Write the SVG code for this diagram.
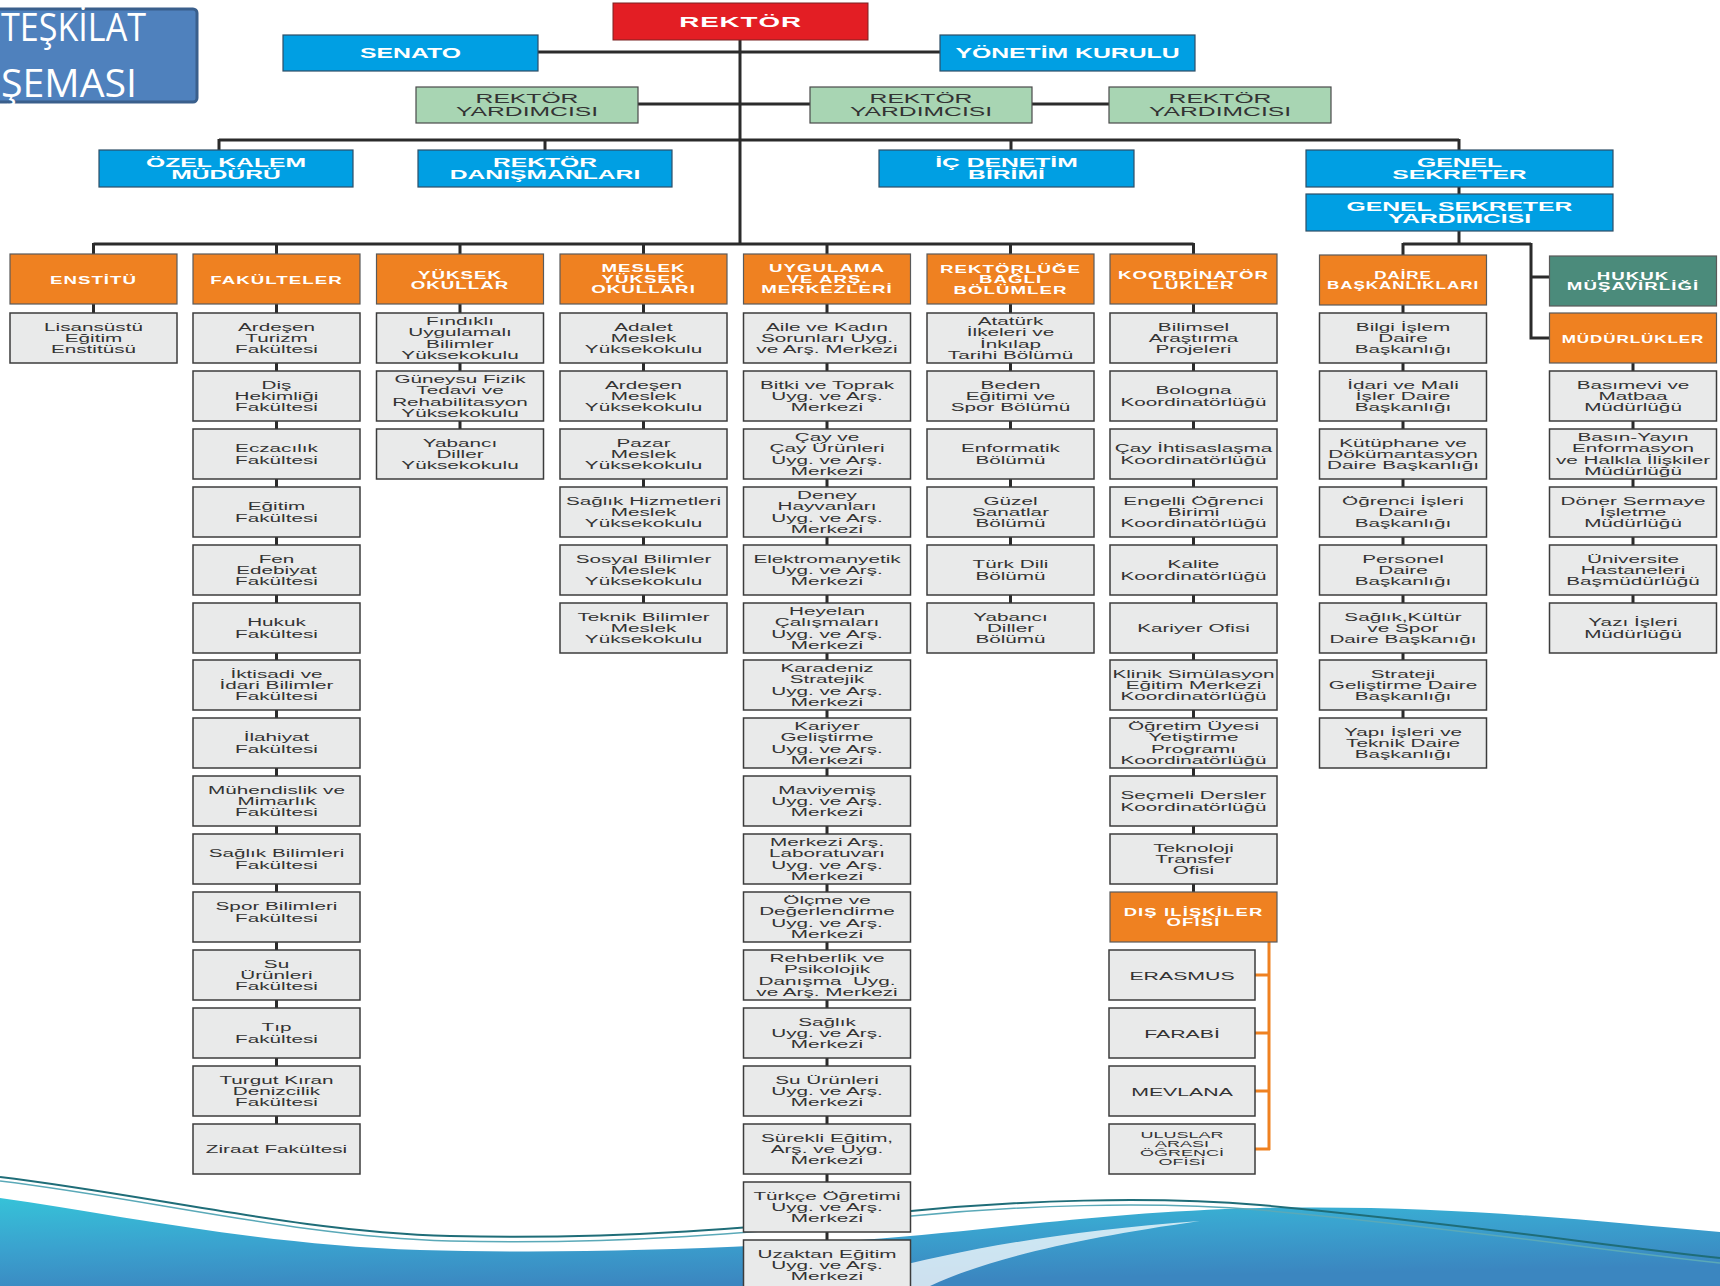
<svg xmlns="http://www.w3.org/2000/svg" width="1720" height="1286" viewBox="0 0 1720 1286">
<defs>
<linearGradient id="wave" x1="0" y1="0" x2="0.35" y2="1">
<stop offset="0" stop-color="#36c2d8"/>
<stop offset="0.5" stop-color="#3aa3cf"/>
<stop offset="1" stop-color="#3b86c0"/>
</linearGradient>
<style>
.box{fill:#e9eaea;stroke:#3c3c3c;stroke-width:1.5}
.hdr{fill:#ef8121;stroke:#5a5a5a;stroke-width:1.2}
.blue{fill:#009fe3;stroke:#2d4e66;stroke-width:1.2}
.green{fill:#a8d5b3;stroke:#4a4a4a;stroke-width:1.2}
.red{fill:#e31e24;stroke:#7a2222;stroke-width:1}
.teal{fill:#4b8b7b;stroke:#5a5a5a;stroke-width:1.2}
.ln{stroke:#2b2b2b;stroke-width:3;fill:none}
.oln{stroke:#ef8121;stroke-width:3;fill:none}
.g{font-family:"Liberation Sans",Arial,sans-serif;font-size:11.5px;fill:#333;text-anchor:middle}
.h{font-family:"Liberation Sans",Arial,sans-serif;font-size:11px;font-weight:bold;fill:#fff;text-anchor:middle;letter-spacing:0.6px}
.tb{font-family:"Liberation Sans",Arial,sans-serif;font-size:13px;font-weight:bold;fill:#fff;text-anchor:middle}
.tg{font-family:"Liberation Sans",Arial,sans-serif;font-size:13px;fill:#333;text-anchor:middle}
.title{font-family:"Open Sans","Noto Sans",sans-serif;font-size:38px;fill:#fff}
</style>
</defs>
<g id="background">
<path d="M0,1198 C120,1215 260,1245 420,1250 C560,1254 700,1250 860,1240 C1000,1230 1100,1212 1260,1208 C1450,1204 1600,1222 1720,1232 L1720,1286 L0,1286 Z" fill="url(#wave)"/>
<path d="M860,1276 C950,1252 1050,1232 1200,1221 C1080,1238 990,1258 930,1286 L880,1286 Z" fill="#ffffff" opacity="0.75"/>
<path d="M0,1177 C150,1195 300,1232 450,1236 C620,1240 760,1228 900,1212 C1020,1200 1150,1196 1260,1205 C1450,1222 1600,1245 1720,1258" fill="none" stroke="#1f6d78" stroke-width="2"/>
<path d="M0,1181 C150,1199 300,1237 450,1241 C620,1245 760,1233 900,1217 C1020,1205 1150,1201 1260,1210 C1450,1227 1600,1250 1720,1263" fill="none" stroke="#5aa9b8" stroke-width="1.5"/>
</g>
<g id="title">
<rect x="-8" y="9" width="205" height="93" rx="4" fill="#4f81bd" stroke="#3a5f8c" stroke-width="3"/>
<text class="title" x="1" y="41" textLength="145" lengthAdjust="spacingAndGlyphs">TEŞKİLAT</text>
<text class="title" x="1" y="97" textLength="136" lengthAdjust="spacingAndGlyphs">ŞEMASI</text>
</g>
<g id="connectors">
<path class="ln" d="M740,40 V244"/>
<path class="ln" d="M538,52 H940"/>
<path class="ln" d="M637,104 H1109"/>
<path class="ln" d="M219,140 H1459 M219,139 V150 M545,139 V150 M1011,139 V150 M1459,139 V150"/>
<path class="ln" d="M1459,187 V194 M1459,231 V244 M1403,244 H1531 M1403,243 V255 M1531,243 V338 H1549 M1531,277 H1549"/>
<path class="ln" d="M93.5,244 H1193.5 M93.5,243 V254 M276.5,243 V254 M460,243 V254 M643.5,243 V254 M827,243 V254 M1010.5,243 V254 M1193.5,243 V254"/>
<path class="ln" d="M93.5,304 V313 M276.5,304 V1124 M460,304 V429 M643.5,304 V603 M827,304 V1286 M1010.5,304 V603 M1193.5,304 V892 M1403,304 V718 M1633,363 V603"/>
<path class="oln" d="M1269,942 V1150 M1255,975 H1270 M1255,1033 H1270 M1255,1091 H1270 M1255,1149 H1270"/>
</g>
<g id="n-rektor"><rect class="red" x="613" y="3" width="255" height="37"/><text class="tb" style="font-size:15px;letter-spacing:0.5px" transform="translate(740.5 0) scale(1.85 1)" x="0" y="27.5">REKTÖR</text></g>
<g id="n-senato"><rect class="blue" x="283" y="35" width="255" height="36"/><text class="tb" style="font-size:14px" transform="translate(410.5 0) scale(1.77 1)" x="0" y="58">SENATO</text></g>
<g id="n-yonetim"><rect class="blue" x="940" y="35" width="255" height="36"/><text class="tb" style="font-size:14px" transform="translate(1067.5 0) scale(1.77 1)" x="0" y="58">YÖNETİM KURULU</text></g>
<g id="n-ry1"><rect class="green" x="416" y="87" width="222" height="36"/><text class="tg" transform="translate(527 0) scale(1.9 1)"><tspan x="0" y="103">REKTÖR</tspan><tspan x="0" y="116">YARDIMCISI</tspan></text></g>
<g id="n-ry2"><rect class="green" x="810" y="87" width="222" height="36"/><text class="tg" transform="translate(921 0) scale(1.9 1)"><tspan x="0" y="103">REKTÖR</tspan><tspan x="0" y="116">YARDIMCISI</tspan></text></g>
<g id="n-ry3"><rect class="green" x="1109" y="87" width="222" height="36"/><text class="tg" transform="translate(1220 0) scale(1.9 1)"><tspan x="0" y="103">REKTÖR</tspan><tspan x="0" y="116">YARDIMCISI</tspan></text></g>
<g id="n-ozel"><rect class="blue" x="99" y="150" width="254" height="37"/><text class="tb" transform="translate(226 0) scale(1.9 1)"><tspan x="0" y="167">ÖZEL KALEM</tspan><tspan x="0" y="179.5">MÜDÜRÜ</tspan></text></g>
<g id="n-danisman"><rect class="blue" x="418" y="150" width="254" height="37"/><text class="tb" transform="translate(545 0) scale(1.9 1)"><tspan x="0" y="167">REKTÖR</tspan><tspan x="0" y="179.5">DANIŞMANLARI</tspan></text></g>
<g id="n-icdenetim"><rect class="blue" x="879" y="150" width="255" height="37"/><text class="tb" transform="translate(1006.5 0) scale(1.9 1)"><tspan x="0" y="167">İÇ DENETİM</tspan><tspan x="0" y="179.5">BİRİMİ</tspan></text></g>
<g id="n-gs"><rect class="blue" x="1306" y="150" width="307" height="37"/><text class="tb" transform="translate(1459.5 0) scale(1.9 1)"><tspan x="0" y="167">GENEL</tspan><tspan x="0" y="179.5">SEKRETER</tspan></text></g>
<g id="n-gsy"><rect class="blue" x="1306" y="194" width="307" height="37"/><text class="tb" transform="translate(1459.5 0) scale(1.9 1)"><tspan x="0" y="211">GENEL SEKRETER</tspan><tspan x="0" y="223.5">YARDIMCISI</tspan></text></g>

<g id="h-enstitu"><rect class="hdr" x="10" y="254" width="167" height="50"/><text class="h" transform="translate(93.5 0) scale(1.7 1)" x="0" y="284">ENSTİTÜ</text></g>
<g id="h-fakulteler"><rect class="hdr" x="193" y="254" width="167" height="50"/><text class="h" transform="translate(276.5 0) scale(1.7 1)" x="0" y="284">FAKÜLTELER</text></g>
<g id="h-yuksekokullar"><rect class="hdr" x="376.5" y="254" width="167" height="50"/><text class="h" transform="translate(460 0) scale(1.7 1)"><tspan x="0" y="279">YÜKSEK</tspan><tspan x="0" y="289.5">OKULLAR</tspan></text></g>
<g id="h-myo"><rect class="hdr" x="560" y="254" width="167" height="50"/><text class="h" transform="translate(643.5 0) scale(1.7 1)"><tspan x="0" y="272.5">MESLEK</tspan><tspan x="0" y="283">YÜKSEK</tspan><tspan x="0" y="293.5">OKULLARI</tspan></text></g>
<g id="h-uygulama"><rect class="hdr" x="743.5" y="254" width="167" height="50"/><text class="h" transform="translate(827 0) scale(1.7 1)"><tspan x="0" y="272.5">UYGULAMA</tspan><tspan x="0" y="283">VE ARŞ.</tspan><tspan x="0" y="293.5">MERKEZLERİ</tspan></text></g>
<g id="h-bolumler"><rect class="hdr" x="927" y="254" width="167" height="50"/><text class="h" transform="translate(1010.5 0) scale(1.7 1)"><tspan x="0" y="273">REKTÖRLÜĞE</tspan><tspan x="0" y="283.5">BAĞLI</tspan><tspan x="0" y="294">BÖLÜMLER</tspan></text></g>
<g id="h-koord"><rect class="hdr" x="1110" y="254" width="167" height="50"/><text class="h" transform="translate(1193.5 0) scale(1.7 1)"><tspan x="0" y="279">KOORDİNATÖR</tspan><tspan x="0" y="289.5">LÜKLER</tspan></text></g>
<g id="h-daire"><rect class="hdr" x="1319.5" y="255" width="167" height="50"/><text class="h" transform="translate(1403 0) scale(1.55 1)"><tspan x="0" y="279">DAİRE</tspan><tspan x="0" y="289.5">BAŞKANLIKLARI</tspan></text></g>
<g id="h-hukuk"><rect class="teal" x="1549.5" y="256" width="167" height="50"/><text class="h" transform="translate(1633 0) scale(1.7 1)"><tspan x="0" y="280">HUKUK</tspan><tspan x="0" y="290.5">MÜŞAVİRLİĞİ</tspan></text></g>
<g id="h-mudurlukler"><rect class="hdr" x="1549.5" y="313" width="167" height="50"/><text class="h" transform="translate(1633 0) scale(1.55 1)" x="0" y="343">MÜDÜRLÜKLER</text></g>

<g id="c0-0"><rect class="box" x="10" y="313" width="167" height="50"/><text class="g" transform="translate(93.5 0) scale(1.8 1)"><tspan x="0" y="330.7">Lisansüstü</tspan><tspan x="0" y="342">Eğitim</tspan><tspan x="0" y="353.3">Enstitüsü</tspan></text></g>

<g id="c1-0"><rect class="box" x="193" y="313" width="167" height="50"/><text class="g" transform="translate(276.5 0) scale(1.8 1)"><tspan x="0" y="330.7">Ardeşen</tspan><tspan x="0" y="342">Turizm</tspan><tspan x="0" y="353.3">Fakültesi</tspan></text></g>
<g id="c1-1"><rect class="box" x="193" y="371" width="167" height="50"/><text class="g" transform="translate(276.5 0) scale(1.8 1)"><tspan x="0" y="388.7">Diş</tspan><tspan x="0" y="400">Hekimliği</tspan><tspan x="0" y="411.3">Fakültesi</tspan></text></g>
<g id="c1-2"><rect class="box" x="193" y="429" width="167" height="50"/><text class="g" transform="translate(276.5 0) scale(1.8 1)"><tspan x="0" y="452.3">Eczacılık</tspan><tspan x="0" y="463.6">Fakültesi</tspan></text></g>
<g id="c1-3"><rect class="box" x="193" y="487" width="167" height="50"/><text class="g" transform="translate(276.5 0) scale(1.8 1)"><tspan x="0" y="510.3">Eğitim</tspan><tspan x="0" y="521.6">Fakültesi</tspan></text></g>
<g id="c1-4"><rect class="box" x="193" y="545" width="167" height="50"/><text class="g" transform="translate(276.5 0) scale(1.8 1)"><tspan x="0" y="562.7">Fen</tspan><tspan x="0" y="574">Edebiyat</tspan><tspan x="0" y="585.3">Fakültesi</tspan></text></g>
<g id="c1-5"><rect class="box" x="193" y="603" width="167" height="50"/><text class="g" transform="translate(276.5 0) scale(1.8 1)"><tspan x="0" y="626.3">Hukuk</tspan><tspan x="0" y="637.6">Fakültesi</tspan></text></g>
<g id="c1-6"><rect class="box" x="193" y="660" width="167" height="50"/><text class="g" transform="translate(276.5 0) scale(1.8 1)"><tspan x="0" y="677.7">İktisadi ve</tspan><tspan x="0" y="689">İdari Bilimler</tspan><tspan x="0" y="700.3">Fakültesi</tspan></text></g>
<g id="c1-7"><rect class="box" x="193" y="718" width="167" height="50"/><text class="g" transform="translate(276.5 0) scale(1.8 1)"><tspan x="0" y="741.3">İlahiyat</tspan><tspan x="0" y="752.6">Fakültesi</tspan></text></g>
<g id="c1-8"><rect class="box" x="193" y="776" width="167" height="50"/><text class="g" transform="translate(276.5 0) scale(1.8 1)"><tspan x="0" y="793.7">Mühendislik ve</tspan><tspan x="0" y="805">Mimarlık</tspan><tspan x="0" y="816.3">Fakültesi</tspan></text></g>
<g id="c1-9"><rect class="box" x="193" y="834" width="167" height="50"/><text class="g" transform="translate(276.5 0) scale(1.8 1)"><tspan x="0" y="857.3">Sağlık Bilimleri</tspan><tspan x="0" y="868.6">Fakültesi</tspan></text></g>
<g id="c1-10"><rect class="box" x="193" y="892" width="167" height="50"/><text class="g" transform="translate(276.5 0) scale(1.8 1)"><tspan x="0" y="910.5">Spor Bilimleri</tspan><tspan x="0" y="921.8">Fakültesi</tspan></text></g>
<g id="c1-11"><rect class="box" x="193" y="950" width="167" height="50"/><text class="g" transform="translate(276.5 0) scale(1.8 1)"><tspan x="0" y="967.7">Su</tspan><tspan x="0" y="979">Ürünleri</tspan><tspan x="0" y="990.3">Fakültesi</tspan></text></g>
<g id="c1-12"><rect class="box" x="193" y="1008" width="167" height="50"/><text class="g" transform="translate(276.5 0) scale(1.8 1)"><tspan x="0" y="1031.3">Tıp</tspan><tspan x="0" y="1042.6">Fakültesi</tspan></text></g>
<g id="c1-13"><rect class="box" x="193" y="1066" width="167" height="50"/><text class="g" transform="translate(276.5 0) scale(1.8 1)"><tspan x="0" y="1083.7">Turgut Kıran</tspan><tspan x="0" y="1095">Denizcilik</tspan><tspan x="0" y="1106.3">Fakültesi</tspan></text></g>
<g id="c1-14"><rect class="box" x="193" y="1124" width="167" height="50"/><text class="g" transform="translate(276.5 0) scale(1.8 1)" x="0" y="1153">Ziraat Fakültesi</text></g>

<g id="c2-0"><rect class="box" x="376.5" y="313" width="167" height="50"/><text class="g" transform="translate(460 0) scale(1.8 1)"><tspan x="0" y="325">Fındıklı</tspan><tspan x="0" y="336.3">Uygulamalı</tspan><tspan x="0" y="347.6">Bilimler</tspan><tspan x="0" y="358.9">Yüksekokulu</tspan></text></g>
<g id="c2-1"><rect class="box" x="376.5" y="371" width="167" height="50"/><text class="g" transform="translate(460 0) scale(1.8 1)"><tspan x="0" y="383">Güneysu Fizik</tspan><tspan x="0" y="394.3">Tedavi ve</tspan><tspan x="0" y="405.6">Rehabilitasyon</tspan><tspan x="0" y="416.9">Yüksekokulu</tspan></text></g>
<g id="c2-2"><rect class="box" x="376.5" y="429" width="167" height="50"/><text class="g" transform="translate(460 0) scale(1.8 1)"><tspan x="0" y="446.7">Yabancı</tspan><tspan x="0" y="458">Diller</tspan><tspan x="0" y="469.3">Yüksekokulu</tspan></text></g>

<g id="c3-0"><rect class="box" x="560" y="313" width="167" height="50"/><text class="g" transform="translate(643.5 0) scale(1.8 1)"><tspan x="0" y="330.7">Adalet</tspan><tspan x="0" y="342">Meslek</tspan><tspan x="0" y="353.3">Yüksekokulu</tspan></text></g>
<g id="c3-1"><rect class="box" x="560" y="371" width="167" height="50"/><text class="g" transform="translate(643.5 0) scale(1.8 1)"><tspan x="0" y="388.7">Ardeşen</tspan><tspan x="0" y="400">Meslek</tspan><tspan x="0" y="411.3">Yüksekokulu</tspan></text></g>
<g id="c3-2"><rect class="box" x="560" y="429" width="167" height="50"/><text class="g" transform="translate(643.5 0) scale(1.8 1)"><tspan x="0" y="446.7">Pazar</tspan><tspan x="0" y="458">Meslek</tspan><tspan x="0" y="469.3">Yüksekokulu</tspan></text></g>
<g id="c3-3"><rect class="box" x="560" y="487" width="167" height="50"/><text class="g" transform="translate(643.5 0) scale(1.8 1)"><tspan x="0" y="504.7">Sağlık Hizmetleri</tspan><tspan x="0" y="516">Meslek</tspan><tspan x="0" y="527.3">Yüksekokulu</tspan></text></g>
<g id="c3-4"><rect class="box" x="560" y="545" width="167" height="50"/><text class="g" transform="translate(643.5 0) scale(1.8 1)"><tspan x="0" y="562.7">Sosyal Bilimler</tspan><tspan x="0" y="574">Meslek</tspan><tspan x="0" y="585.3">Yüksekokulu</tspan></text></g>
<g id="c3-5"><rect class="box" x="560" y="603" width="167" height="50"/><text class="g" transform="translate(643.5 0) scale(1.8 1)"><tspan x="0" y="620.7">Teknik Bilimler</tspan><tspan x="0" y="632">Meslek</tspan><tspan x="0" y="643.3">Yüksekokulu</tspan></text></g>

<g id="c4-0"><rect class="box" x="743.5" y="313" width="167" height="50"/><text class="g" transform="translate(827 0) scale(1.8 1)"><tspan x="0" y="330.7">Aile ve Kadın</tspan><tspan x="0" y="342">Sorunları Uyg.</tspan><tspan x="0" y="353.3">ve Arş. Merkezi</tspan></text></g>
<g id="c4-1"><rect class="box" x="743.5" y="371" width="167" height="50"/><text class="g" transform="translate(827 0) scale(1.8 1)"><tspan x="0" y="388.7">Bitki ve Toprak</tspan><tspan x="0" y="400">Uyg. ve Arş.</tspan><tspan x="0" y="411.3">Merkezi</tspan></text></g>
<g id="c4-2"><rect class="box" x="743.5" y="429" width="167" height="50"/><text class="g" transform="translate(827 0) scale(1.8 1)"><tspan x="0" y="441">Çay ve</tspan><tspan x="0" y="452.3">Çay Ürünleri</tspan><tspan x="0" y="463.6">Uyg. ve Arş.</tspan><tspan x="0" y="474.9">Merkezi</tspan></text></g>
<g id="c4-3"><rect class="box" x="743.5" y="487" width="167" height="50"/><text class="g" transform="translate(827 0) scale(1.8 1)"><tspan x="0" y="499">Deney</tspan><tspan x="0" y="510.3">Hayvanları</tspan><tspan x="0" y="521.6">Uyg. ve Arş.</tspan><tspan x="0" y="532.9">Merkezi</tspan></text></g>
<g id="c4-4"><rect class="box" x="743.5" y="545" width="167" height="50"/><text class="g" transform="translate(827 0) scale(1.8 1)"><tspan x="0" y="562.7">Elektromanyetik</tspan><tspan x="0" y="574">Uyg. ve Arş.</tspan><tspan x="0" y="585.3">Merkezi</tspan></text></g>
<g id="c4-5"><rect class="box" x="743.5" y="603" width="167" height="50"/><text class="g" transform="translate(827 0) scale(1.8 1)"><tspan x="0" y="615">Heyelan</tspan><tspan x="0" y="626.3">Çalışmaları</tspan><tspan x="0" y="637.6">Uyg. ve Arş.</tspan><tspan x="0" y="648.9">Merkezi</tspan></text></g>
<g id="c4-6"><rect class="box" x="743.5" y="660" width="167" height="50"/><text class="g" transform="translate(827 0) scale(1.8 1)"><tspan x="0" y="672">Karadeniz</tspan><tspan x="0" y="683.3">Stratejik</tspan><tspan x="0" y="694.6">Uyg. ve Arş.</tspan><tspan x="0" y="705.9">Merkezi</tspan></text></g>
<g id="c4-7"><rect class="box" x="743.5" y="718" width="167" height="50"/><text class="g" transform="translate(827 0) scale(1.8 1)"><tspan x="0" y="730">Kariyer</tspan><tspan x="0" y="741.3">Geliştirme</tspan><tspan x="0" y="752.6">Uyg. ve Arş.</tspan><tspan x="0" y="763.9">Merkezi</tspan></text></g>
<g id="c4-8"><rect class="box" x="743.5" y="776" width="167" height="50"/><text class="g" transform="translate(827 0) scale(1.8 1)"><tspan x="0" y="793.7">Maviyemiş</tspan><tspan x="0" y="805">Uyg. ve Arş.</tspan><tspan x="0" y="816.3">Merkezi</tspan></text></g>
<g id="c4-9"><rect class="box" x="743.5" y="834" width="167" height="50"/><text class="g" transform="translate(827 0) scale(1.8 1)"><tspan x="0" y="846">Merkezi Arş.</tspan><tspan x="0" y="857.3">Laboratuvarı</tspan><tspan x="0" y="868.6">Uyg. ve Arş.</tspan><tspan x="0" y="879.9">Merkezi</tspan></text></g>
<g id="c4-10"><rect class="box" x="743.5" y="892" width="167" height="50"/><text class="g" transform="translate(827 0) scale(1.8 1)"><tspan x="0" y="904">Ölçme ve</tspan><tspan x="0" y="915.3">Değerlendirme</tspan><tspan x="0" y="926.6">Uyg. ve Arş.</tspan><tspan x="0" y="937.9">Merkezi</tspan></text></g>
<g id="c4-11"><rect class="box" x="743.5" y="950" width="167" height="50"/><text class="g" transform="translate(827 0) scale(1.8 1)"><tspan x="0" y="962">Rehberlik ve</tspan><tspan x="0" y="973.3">Psikolojik</tspan><tspan x="0" y="984.6" xml:space="preserve">Danışma  Uyg.</tspan><tspan x="0" y="995.9">ve Arş. Merkezi</tspan></text></g>
<g id="c4-12"><rect class="box" x="743.5" y="1008" width="167" height="50"/><text class="g" transform="translate(827 0) scale(1.8 1)"><tspan x="0" y="1025.7">Sağlık</tspan><tspan x="0" y="1037">Uyg. ve Arş.</tspan><tspan x="0" y="1048.3">Merkezi</tspan></text></g>
<g id="c4-13"><rect class="box" x="743.5" y="1066" width="167" height="50"/><text class="g" transform="translate(827 0) scale(1.8 1)"><tspan x="0" y="1083.7">Su Ürünleri</tspan><tspan x="0" y="1095">Uyg. ve Arş.</tspan><tspan x="0" y="1106.3">Merkezi</tspan></text></g>
<g id="c4-14"><rect class="box" x="743.5" y="1124" width="167" height="50"/><text class="g" transform="translate(827 0) scale(1.8 1)"><tspan x="0" y="1141.7">Sürekli Eğitim,</tspan><tspan x="0" y="1153">Arş. ve Uyg.</tspan><tspan x="0" y="1164.3">Merkezi</tspan></text></g>
<g id="c4-15"><rect class="box" x="743.5" y="1182" width="167" height="50"/><text class="g" transform="translate(827 0) scale(1.8 1)"><tspan x="0" y="1199.7">Türkçe Öğretimi</tspan><tspan x="0" y="1211">Uyg. ve Arş.</tspan><tspan x="0" y="1222.3">Merkezi</tspan></text></g>
<g id="c4-16"><rect class="box" x="743.5" y="1240" width="167" height="50"/><text class="g" transform="translate(827 0) scale(1.8 1)"><tspan x="0" y="1257.7">Uzaktan Eğitim</tspan><tspan x="0" y="1269">Uyg. ve Arş.</tspan><tspan x="0" y="1280.3">Merkezi</tspan></text></g>

<g id="c5-0"><rect class="box" x="927" y="313" width="167" height="50"/><text class="g" transform="translate(1010.5 0) scale(1.8 1)"><tspan x="0" y="325">Atatürk</tspan><tspan x="0" y="336.3">İlkeleri ve</tspan><tspan x="0" y="347.6">İnkılap</tspan><tspan x="0" y="358.9">Tarihi Bölümü</tspan></text></g>
<g id="c5-1"><rect class="box" x="927" y="371" width="167" height="50"/><text class="g" transform="translate(1010.5 0) scale(1.8 1)"><tspan x="0" y="388.7">Beden</tspan><tspan x="0" y="400">Eğitimi ve</tspan><tspan x="0" y="411.3">Spor Bölümü</tspan></text></g>
<g id="c5-2"><rect class="box" x="927" y="429" width="167" height="50"/><text class="g" transform="translate(1010.5 0) scale(1.8 1)"><tspan x="0" y="452.3">Enformatik</tspan><tspan x="0" y="463.6">Bölümü</tspan></text></g>
<g id="c5-3"><rect class="box" x="927" y="487" width="167" height="50"/><text class="g" transform="translate(1010.5 0) scale(1.8 1)"><tspan x="0" y="504.7">Güzel</tspan><tspan x="0" y="516">Sanatlar</tspan><tspan x="0" y="527.3">Bölümü</tspan></text></g>
<g id="c5-4"><rect class="box" x="927" y="545" width="167" height="50"/><text class="g" transform="translate(1010.5 0) scale(1.8 1)"><tspan x="0" y="568.3">Türk Dili</tspan><tspan x="0" y="579.6">Bölümü</tspan></text></g>
<g id="c5-5"><rect class="box" x="927" y="603" width="167" height="50"/><text class="g" transform="translate(1010.5 0) scale(1.8 1)"><tspan x="0" y="620.7">Yabancı</tspan><tspan x="0" y="632">Diller</tspan><tspan x="0" y="643.3">Bölümü</tspan></text></g>

<g id="c6-0"><rect class="box" x="1110" y="313" width="167" height="50"/><text class="g" transform="translate(1193.5 0) scale(1.8 1)"><tspan x="0" y="330.7">Bilimsel</tspan><tspan x="0" y="342">Araştırma</tspan><tspan x="0" y="353.3">Projeleri</tspan></text></g>
<g id="c6-1"><rect class="box" x="1110" y="371" width="167" height="50"/><text class="g" transform="translate(1193.5 0) scale(1.8 1)"><tspan x="0" y="394.3">Bologna</tspan><tspan x="0" y="405.6">Koordinatörlüğü</tspan></text></g>
<g id="c6-2"><rect class="box" x="1110" y="429" width="167" height="50"/><text class="g" transform="translate(1193.5 0) scale(1.8 1)"><tspan x="0" y="452.3">Çay İhtisaslaşma</tspan><tspan x="0" y="463.6">Koordinatörlüğü</tspan></text></g>
<g id="c6-3"><rect class="box" x="1110" y="487" width="167" height="50"/><text class="g" transform="translate(1193.5 0) scale(1.8 1)"><tspan x="0" y="504.7">Engelli Öğrenci</tspan><tspan x="0" y="516">Birimi</tspan><tspan x="0" y="527.3">Koordinatörlüğü</tspan></text></g>
<g id="c6-4"><rect class="box" x="1110" y="545" width="167" height="50"/><text class="g" transform="translate(1193.5 0) scale(1.8 1)"><tspan x="0" y="568.3">Kalite</tspan><tspan x="0" y="579.6">Koordinatörlüğü</tspan></text></g>
<g id="c6-5"><rect class="box" x="1110" y="603" width="167" height="50"/><text class="g" transform="translate(1193.5 0) scale(1.8 1)" x="0" y="632">Kariyer Ofisi</text></g>
<g id="c6-6"><rect class="box" x="1110" y="660" width="167" height="50"/><text class="g" transform="translate(1193.5 0) scale(1.8 1)"><tspan x="0" y="677.7">Klinik Simülasyon</tspan><tspan x="0" y="689">Eğitim Merkezi</tspan><tspan x="0" y="700.3">Koordinatörlüğü</tspan></text></g>
<g id="c6-7"><rect class="box" x="1110" y="718" width="167" height="50"/><text class="g" transform="translate(1193.5 0) scale(1.8 1)"><tspan x="0" y="730">Öğretim Üyesi</tspan><tspan x="0" y="741.3">Yetiştirme</tspan><tspan x="0" y="752.6">Programı</tspan><tspan x="0" y="763.9">Koordinatörlüğü</tspan></text></g>
<g id="c6-8"><rect class="box" x="1110" y="776" width="167" height="50"/><text class="g" transform="translate(1193.5 0) scale(1.8 1)"><tspan x="0" y="799.3">Seçmeli Dersler</tspan><tspan x="0" y="810.6">Koordinatörlüğü</tspan></text></g>
<g id="c6-9"><rect class="box" x="1110" y="834" width="167" height="50"/><text class="g" transform="translate(1193.5 0) scale(1.8 1)"><tspan x="0" y="851.7">Teknoloji</tspan><tspan x="0" y="863">Transfer</tspan><tspan x="0" y="874.3">Ofisi</tspan></text></g>
<g id="c6-10"><rect class="hdr" x="1110" y="892" width="167" height="50"/><text class="h" style="font-size:10px" transform="translate(1193.5 0) scale(1.85 1)"><tspan x="0" y="916">DIŞ ILİŞKİLER</tspan><tspan x="0" y="926">OFİSİ</tspan></text></g>
<g id="c6-11"><rect class="box" x="1109" y="950" width="146" height="50"/><text class="g" transform="translate(1182 0) scale(1.85 1)" x="0" y="980.5">ERASMUS</text></g>
<g id="c6-12"><rect class="box" x="1109" y="1008" width="146" height="50"/><text class="g" transform="translate(1182 0) scale(1.85 1)" x="0" y="1038.5">FARABİ</text></g>
<g id="c6-13"><rect class="box" x="1109" y="1066" width="146" height="50"/><text class="g" transform="translate(1182 0) scale(1.85 1)" x="0" y="1096.5">MEVLANA</text></g>
<g id="c6-14"><rect class="box" x="1109" y="1124" width="146" height="50"/><text class="g" style="font-size:9px" transform="translate(1182 0) scale(2 1)"><tspan x="0" y="1138.5">ULUSLAR</tspan><tspan x="0" y="1147.3">ARASI</tspan><tspan x="0" y="1156.1">ÖĞRENCİ</tspan><tspan x="0" y="1164.9">OFİSİ</tspan></text></g>

<g id="d-0"><rect class="box" x="1319.5" y="313" width="167" height="50"/><text class="g" transform="translate(1403 0) scale(1.8 1)"><tspan x="0" y="330.7">Bilgi İşlem</tspan><tspan x="0" y="342">Daire</tspan><tspan x="0" y="353.3">Başkanlığı</tspan></text></g>
<g id="d-1"><rect class="box" x="1319.5" y="371" width="167" height="50"/><text class="g" transform="translate(1403 0) scale(1.8 1)"><tspan x="0" y="388.7">İdari ve Mali</tspan><tspan x="0" y="400">İşler Daire</tspan><tspan x="0" y="411.3">Başkanlığı</tspan></text></g>
<g id="d-2"><rect class="box" x="1319.5" y="429" width="167" height="50"/><text class="g" transform="translate(1403 0) scale(1.8 1)"><tspan x="0" y="446.7">Kütüphane ve</tspan><tspan x="0" y="458">Dökümantasyon</tspan><tspan x="0" y="469.3">Daire Başkanlığı</tspan></text></g>
<g id="d-3"><rect class="box" x="1319.5" y="487" width="167" height="50"/><text class="g" transform="translate(1403 0) scale(1.8 1)"><tspan x="0" y="504.7">Öğrenci İşleri</tspan><tspan x="0" y="516">Daire</tspan><tspan x="0" y="527.3">Başkanlığı</tspan></text></g>
<g id="d-4"><rect class="box" x="1319.5" y="545" width="167" height="50"/><text class="g" transform="translate(1403 0) scale(1.8 1)"><tspan x="0" y="562.7">Personel</tspan><tspan x="0" y="574">Daire</tspan><tspan x="0" y="585.3">Başkanlığı</tspan></text></g>
<g id="d-5"><rect class="box" x="1319.5" y="603" width="167" height="50"/><text class="g" transform="translate(1403 0) scale(1.8 1)"><tspan x="0" y="620.7">Sağlık,Kültür</tspan><tspan x="0" y="632">ve Spor</tspan><tspan x="0" y="643.3">Daire Başkanığı</tspan></text></g>
<g id="d-6"><rect class="box" x="1319.5" y="660" width="167" height="50"/><text class="g" transform="translate(1403 0) scale(1.8 1)"><tspan x="0" y="677.7">Strateji</tspan><tspan x="0" y="689">Geliştirme Daire</tspan><tspan x="0" y="700.3">Başkanlığı</tspan></text></g>
<g id="d-7"><rect class="box" x="1319.5" y="718" width="167" height="50"/><text class="g" transform="translate(1403 0) scale(1.8 1)"><tspan x="0" y="735.7">Yapı İşleri ve</tspan><tspan x="0" y="747">Teknik Daire</tspan><tspan x="0" y="758.3">Başkanlığı</tspan></text></g>

<g id="m-1"><rect class="box" x="1549.5" y="371" width="167" height="50"/><text class="g" transform="translate(1633 0) scale(1.8 1)"><tspan x="0" y="388.7">Basımevi ve</tspan><tspan x="0" y="400">Matbaa</tspan><tspan x="0" y="411.3">Müdürlüğü</tspan></text></g>
<g id="m-2"><rect class="box" x="1549.5" y="429" width="167" height="50"/><text class="g" transform="translate(1633 0) scale(1.8 1)"><tspan x="0" y="441">Basın-Yayın</tspan><tspan x="0" y="452.3">Enformasyon</tspan><tspan x="0" y="463.6">ve Halkla İlişkiler</tspan><tspan x="0" y="474.9">Müdürlüğü</tspan></text></g>
<g id="m-3"><rect class="box" x="1549.5" y="487" width="167" height="50"/><text class="g" transform="translate(1633 0) scale(1.8 1)"><tspan x="0" y="504.7">Döner Sermaye</tspan><tspan x="0" y="516">İşletme</tspan><tspan x="0" y="527.3">Müdürlüğü</tspan></text></g>
<g id="m-4"><rect class="box" x="1549.5" y="545" width="167" height="50"/><text class="g" transform="translate(1633 0) scale(1.8 1)"><tspan x="0" y="562.7">Üniversite</tspan><tspan x="0" y="574">Hastaneleri</tspan><tspan x="0" y="585.3">Başmüdürlüğü</tspan></text></g>
<g id="m-5"><rect class="box" x="1549.5" y="603" width="167" height="50"/><text class="g" transform="translate(1633 0) scale(1.8 1)"><tspan x="0" y="626.3">Yazı İşleri</tspan><tspan x="0" y="637.6">Müdürlüğü</tspan></text></g>
</svg>
